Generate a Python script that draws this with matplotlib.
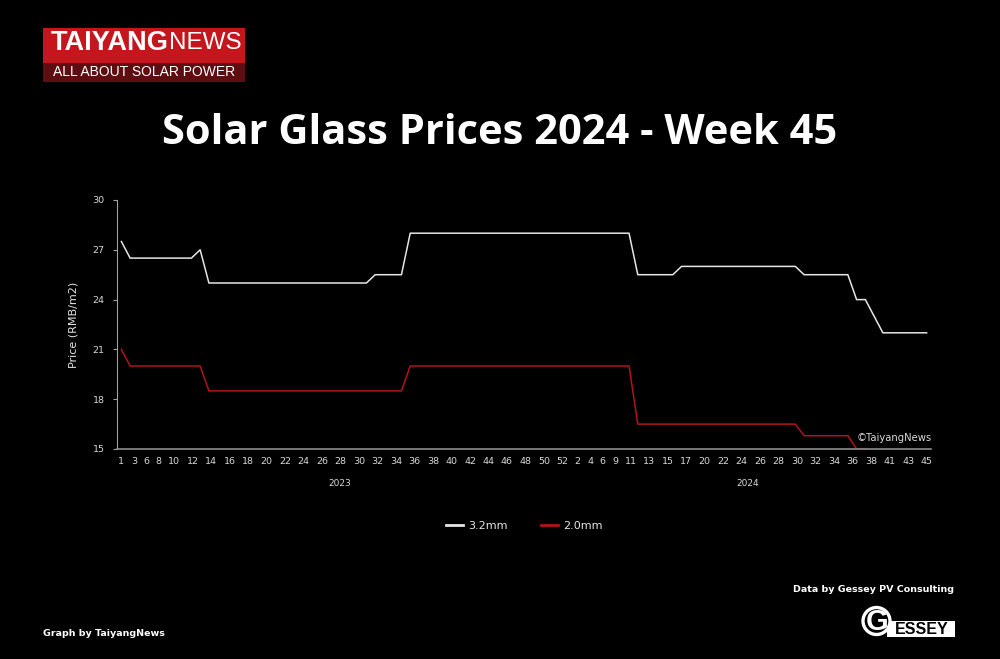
import numpy as np
import matplotlib
matplotlib.use("Agg")
import matplotlib.pyplot as plt
from matplotlib.patches import Rectangle, Ellipse

# week labels (two years on one categorical axis)
weeks_2023 = [1, 2, 3, 5] + list(range(6, 53))
weeks_2024 = [1, 2, 3, 4, 5, 6, 8] + list(range(9, 18)) + [19] + list(range(20, 39)) + [40] + list(range(41, 46))
weeks = weeks_2023 + weeks_2024

price_32 = ([27.5] + [26.5] * 8 + [27] + [25] * 19 + [25.5] * 4 + [28] * 26 +
            [25.5] * 5 + [26] * 14 + [25.5] * 6 + [24, 24, 23] + [22] * 6)
price_20 = ([21] + [20] * 9 + [18.5] * 23 + [20] * 26 + [16.5] * 19 +
            [15.8] * 6 + [15, 15] + [np.nan] * 7)

years = ["2023", "2024"]
title = "Solar Glass Prices 2024 - Week 45"

W, H = 1000, 659
fig = plt.figure(figsize=(W / 100, H / 100), dpi=100, facecolor="black")

def fx(px):
    return px / W

def fy(py):
    return 1 - py / H

ax = fig.add_axes([fx(117), fy(449), fx(931) - fx(117), fy(200) - fy(449)])
ax.set_facecolor("black")

x = np.arange(len(weeks))
ax.plot(x, price_32, color="#e6e6e6", lw=1.1, label="3.2mm")
ax.plot(x, price_20, color="#b5121b", lw=1.1, label="2.0mm")

ax.set_xlim(-0.5, len(weeks) - 0.5)
ax.set_ylim(15, 30)
ax.set_yticks([15, 18, 21, 24, 27, 30])
ax.set_xticks([])
ax.tick_params(axis="y", length=3, width=0.8, color="#a0a0a0", pad=6,
               labelsize=6.8, labelcolor="#d9d9d9")
for s in ["top", "right"]:
    ax.spines[s].set_visible(False)
ax.spines["left"].set_color("#a0a0a0")
ax.spines["bottom"].set_color("#8c8c8c")
ax.spines["left"].set_linewidth(0.8)
ax.spines["bottom"].set_linewidth(1.2)
ax.set_ylabel("Price (RMB/m2)", color="#e6e6e6", fontsize=8, labelpad=10)

# every other week label, spread with equal gaps between the texts
xt = ax.get_xaxis_transform()
labels = [str(w) for w in weeks[::2]]
texts = [ax.text(0, -0.052, s, transform=xt, ha="center", va="center",
                 fontsize=6.8, color="#d9d9d9") for s in labels]
renderer = fig.canvas.get_renderer()
widths = [t.get_window_extent(renderer).width for t in texts]
p0 = ax.transData.transform((0, 0))[0]
p1 = ax.transData.transform((len(weeks) - 1, 0))[0]
gap = (p1 - p0 - sum(widths) + widths[0] / 2 + widths[-1] / 2) / (len(texts) - 1)
c = p0
for i, t in enumerate(texts):
    if i > 0:
        c += widths[i - 1] / 2 + gap + widths[i] / 2
    t.set_x(ax.transData.inverted().transform((c, 0))[0])

# year labels under the week labels
n23 = len(weeks_2023)
ax.text((n23 - 1) / 2, -0.14, years[0], transform=xt,
        ha="center", va="center", fontsize=6.5, color="#d9d9d9")
ax.text((n23 + len(weeks) - 1) / 2, -0.14, years[1], transform=xt,
        ha="center", va="center", fontsize=6.5, color="#d9d9d9")

ax.text(1.001, 0.045, "\u00a9TaiyangNews", transform=ax.transAxes, ha="right",
        va="center", fontsize=7.2, color="#d9d9d9")

leg = ax.legend(loc="center", bbox_to_anchor=(0.5, -0.31), ncol=2, frameon=False,
                fontsize=8, handlelength=1.6, columnspacing=3.0, handletextpad=0.4)
for t in leg.get_texts():
    t.set_color("#e6e6e6")
for h in leg.legend_handles:
    h.set_linewidth(2)

fig.text(0.5, fy(133), title, ha="center", va="center", fontsize=30,
         fontweight="bold", color="white", family="Open Sans")

# TaiyangNews logo
fig.add_artist(Rectangle((fx(43), fy(63)), fx(245) - fx(43), fy(28) - fy(63),
                         transform=fig.transFigure, color="#c4161c", lw=0))
fig.add_artist(Rectangle((fx(43), fy(82)), fx(245) - fx(43), fy(63) - fy(82),
                         transform=fig.transFigure, color="#5e0d11", lw=0))
fig.text(fx(51), fy(43), "TAIYANG", ha="left", va="center", fontsize=19.5,
         fontweight="bold", color="white", family="Liberation Sans")
fig.text(fx(242), fy(43), "NEWS", ha="right", va="center", fontsize=17.5,
         color="white", family="Liberation Sans")
fig.text(fx(144), fy(72.5), "ALL ABOUT SOLAR POWER", ha="center", va="center",
         fontsize=10, color="white", family="Liberation Sans")

fig.text(fx(954), fy(589), "Data by Gessey PV Consulting", ha="right", va="center",
         fontsize=6.8, fontweight="bold", color="white")
fig.text(fx(43), fy(633), "Graph by TaiyangNews", ha="left", va="center",
         fontsize=6.8, fontweight="bold", color="white")

# Gessey logo
fig.add_artist(Rectangle((fx(887), fy(637)), fx(955) - fx(887), fy(621) - fy(637),
                         transform=fig.transFigure, color="white", lw=0))
fig.text(fx(922), fy(629), "ESSEY", ha="center", va="center", fontsize=11.5,
         fontweight="bold", color="black", family="Liberation Sans")
ring = Ellipse((fx(876.5), fy(621)), 27 / W, 27 / H, transform=fig.transFigure,
               facecolor="black", edgecolor="white", lw=2.4)
fig.add_artist(ring)
fig.text(fx(877), fy(622), "G", ha="center", va="center", fontsize=21,
         fontweight="bold", color="white", family="Liberation Sans")

fig.savefig("out.png", dpi=100, facecolor="black")
